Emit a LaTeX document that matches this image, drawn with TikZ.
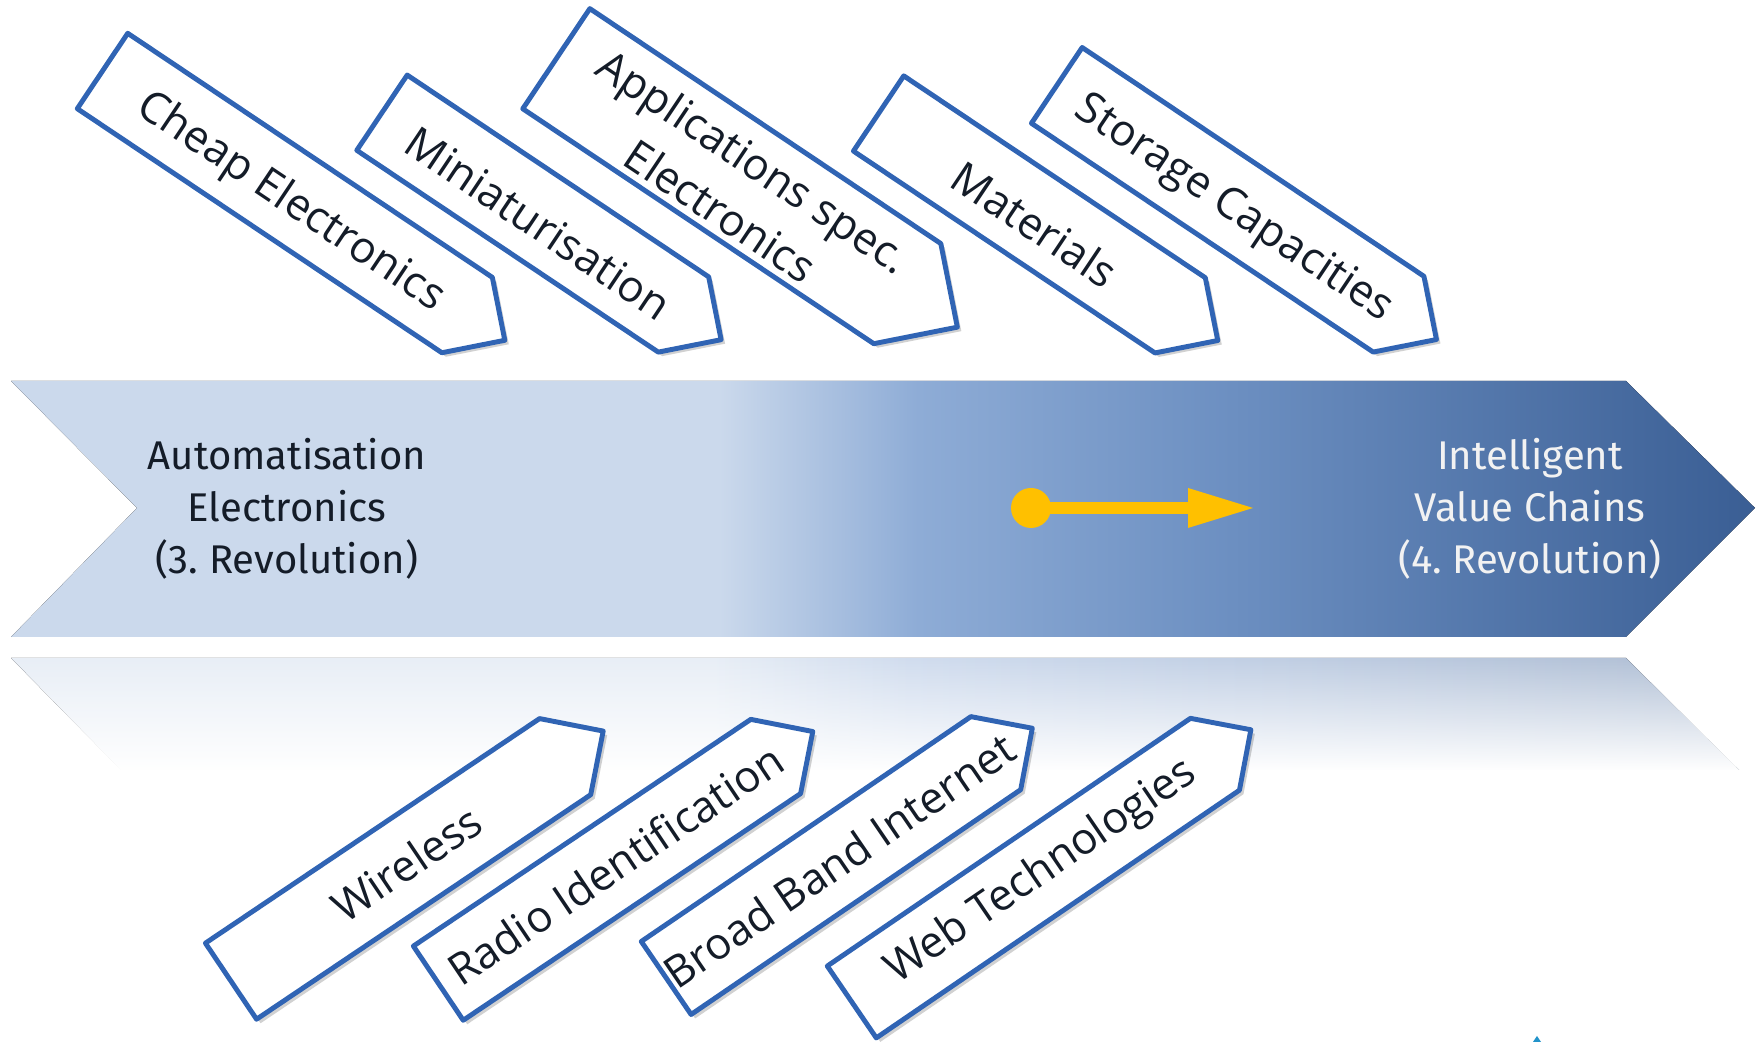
\documentclass[tikz,border=0pt]{standalone}
\usepackage{fontspec}
\setmainfont{Open Sans}
\newfontfamily\firafont{Fira Sans}
\usetikzlibrary{fadings}
\definecolor{boxblue}{RGB}{48,100,180}
\definecolor{bandlight}{RGB}{203,217,236}
\definecolor{bandmid}{RGB}{142,172,214}
\definecolor{bandmidb}{RGB}{108,143,193}
\definecolor{banddark}{RGB}{58,94,148}
\definecolor{refllight}{RGB}{232,238,246}
\definecolor{reflmid}{RGB}{208,220,238}
\definecolor{reflmidb}{RGB}{194,208,229}
\definecolor{refldark}{RGB}{174,189,211}
\definecolor{gold}{RGB}{255,192,0}
\definecolor{ink}{RGB}{20,28,40}
\pgfdeclarehorizontalshading{bandshade}{100bp}{color(0bp)=(bandlight); color(45.3bp)=(bandlight); color(51bp)=(bandmid); color(60bp)=(bandmidb); color(75bp)=(banddark); color(100bp)=(banddark)}
\pgfdeclarehorizontalshading{reflshade}{100bp}{color(0bp)=(refllight); color(45.3bp)=(refllight); color(51bp)=(reflmid); color(60bp)=(reflmidb); color(75bp)=(refldark); color(100bp)=(refldark)}
\tikzfading[name=fadeout, top color=transparent!100, bottom color=transparent!0]
\begin{document}
\begin{tikzpicture}[x=0.1mm, y=0.1mm, line join=round,
	card/.style={draw=boxblue, line width=1.4pt, fill=white},
	cardshadow/.style={fill=black, opacity=0.18},
	cardtext/.style={text=ink, font=\fontsize{12.4pt}{17pt}\selectfont, align=center, inner sep=0pt},
	bandtext/.style={font=\firafont\fontsize{11.4pt}{14.8pt}\selectfont\frenchspacing, align=center, text=ink}]
		\useasboundingbox (0,0) rectangle (1758,1042);
		% band and its reflection
		\fill[shading=bandshade] (11,661)--(1626,661)--(1755,534)--(1626,405)--(11,405)--(137,534)--cycle;
		\fill[shading=reflshade] (11,384)--(1626,384)--(1739,272)--(121,272)--cycle;
		\fill[white, path fading=fadeout] (11,385)--(1627,385)--(1740,271)--(120,271)--cycle;
		\node[bandtext] (old) at (287,533) {Automatisation\\Electronics\\(3. Revolution)};
		\node[bandtext, text=white!95!black] (new) at (1530,533) {Intelligent\\Value Chains\\(4. Revolution)};
		\coordinate (dot) at (1031,534); \coordinate (neck) at (1188,534); \coordinate (tip) at (1253,534);
		\fill[gold] (dot) circle (20);
		\draw[gold, line width=1.2mm] (dot)--(neck);
		\fill[gold] (neck) ++(0,20)--(tip)--++(-65,-20)--cycle;
		% driver cards: tail middle x/y, angle, body length, width, text offset
		\foreach \px/\py/\ang/\len/\wid/\dy/\nm/\txt in {
			102.5/971/-33.8/438.8/90.7/-5/cheap/{Cheap Electronics},
			382/929.3/-33.8/362.8/90.6/-5/mini/{Miniaturisation},
			556.3/983.3/-33.8/422.4/120.5/-5/appl/{Applications spec.\\Electronics},
			878.6/928.5/-33.8/362.9/90.5/-5/mater/{Materials},
			1056.8/956.6/-33.8/411.3/91.2/-5/store/{Storage Capacities},
			231/60.8/33.9/402.6/91.7/0/wireless/{Wireless},
			438.3/58.8/33.9/406.5/89.4/0/radio/{Radio Identification},
			666.2/64/34.3/399/88.4/0/broad/{Broad Band Internet},
			851.8/40/34.3/439.6/87/0/web/{Web Technologies}}{
			\fill[cardshadow, shift={(\px+4,\py-4)}, rotate=\ang] (0,-\wid/2)--(\len,-\wid/2)--(\len+\wid/2,0)--(\len,\wid/2)--(0,\wid/2)--cycle;
			\draw[card, shift={(\px,\py)}, rotate=\ang] (0,-\wid/2)--(\len,-\wid/2)--(\len+\wid/2,0)--(\len,\wid/2)--(0,\wid/2)--cycle;
			\path[shift={(\px,\py)}, rotate=\ang] (\len/2+10,\dy) node[cardtext, rotate=\ang] (\nm) {\txt};
		}
		\fill[boxblue!70!cyan] (1533,0)--(1537,6)--(1541,0)--cycle;
\end{tikzpicture}
\end{document}
